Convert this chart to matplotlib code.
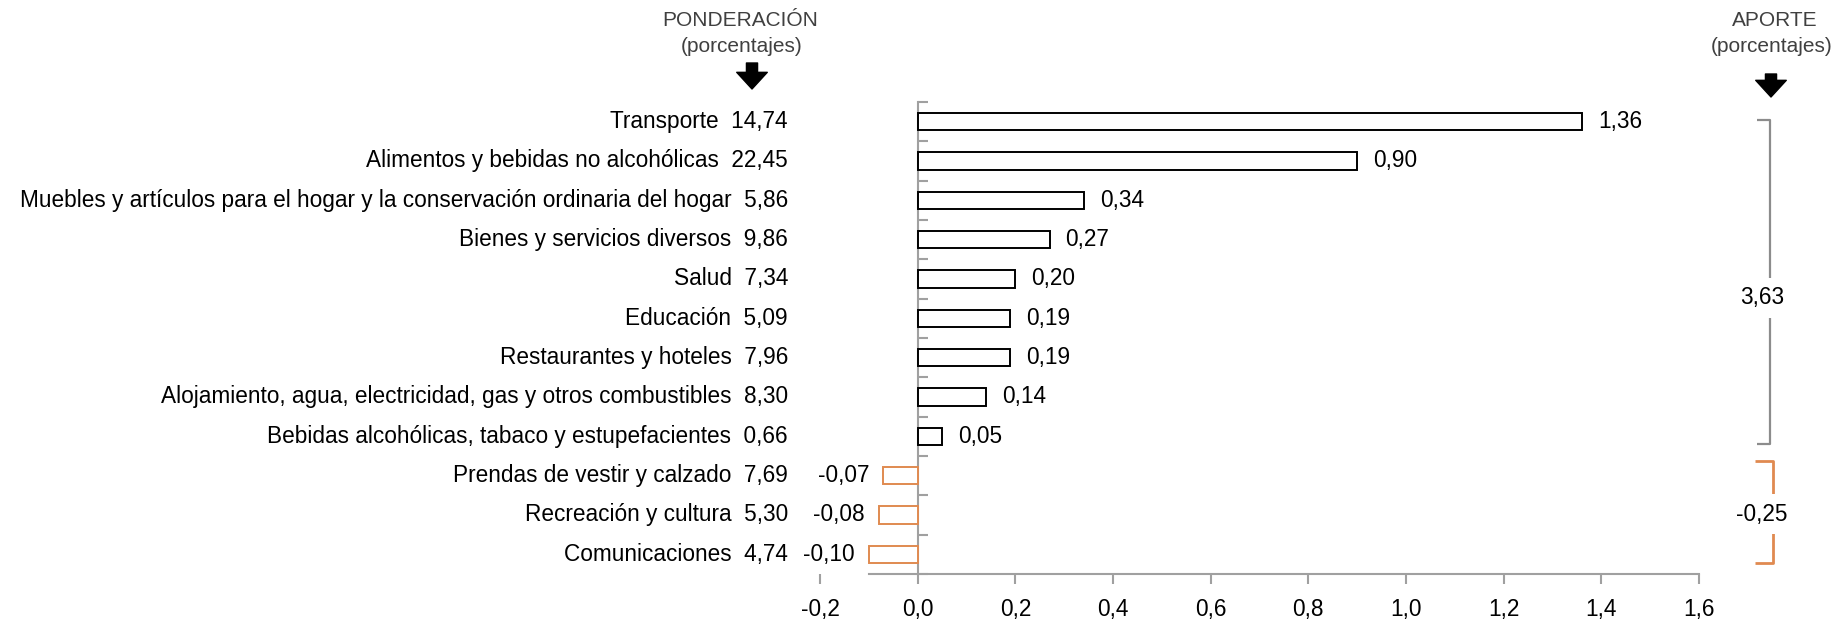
import numpy as np
import matplotlib
matplotlib.use("Agg")
import matplotlib.pyplot as plt
from matplotlib import font_manager
from matplotlib.path import Path
from matplotlib.patches import PathPatch

# data
categorias = [
    "Transporte",
    "Alimentos y bebidas no alcohólicas",
    "Muebles y artículos para el hogar y la conservación ordinaria del hogar",
    "Bienes y servicios diversos",
    "Salud",
    "Educación",
    "Restaurantes y hoteles",
    "Alojamiento, agua, electricidad, gas y otros combustibles",
    "Bebidas alcohólicas, tabaco y estupefacientes",
    "Prendas de vestir y calzado",
    "Recreación y cultura",
    "Comunicaciones",
]
ponderacion = [14.74, 22.45, 5.86, 9.86, 7.34, 5.09, 7.96, 8.30, 0.66, 7.69, 5.30, 4.74]
aporte = [1.36, 0.90, 0.34, 0.27, 0.20, 0.19, 0.19, 0.14, 0.05, -0.07, -0.08, -0.10]
total_pos = 3.63
total_neg = -0.25
xticks = [-0.2, 0.0, 0.2, 0.4, 0.6, 0.8, 1.0, 1.2, 1.4, 1.6]

names = {f.name for f in font_manager.fontManager.ttflist}
fam = "Liberation Sans Narrow" if "Liberation Sans Narrow" in names else "Liberation Sans"
plt.rcParams["font.family"] = [fam, "DejaVu Sans"]

ORANGE = "#E08A50"
GRAY = "#8c8c8c"
FS = 16.3

def fmt(v, d=2):
    return f"{v:.{d}f}".replace(".", ",")

W, H = 1841, 622
fig = plt.figure(figsize=(W / 100, H / 100), dpi=100)
ax = fig.add_axes([820 / W, (H - 574) / H, (1699 - 820) / W, (574 - 102) / H])

y = np.arange(len(categorias))
edge = ["black" if v >= 0 else ORANGE for v in aporte]
ax.barh(y, aporte, height=0.44, color="white", edgecolor=edge, linewidth=1.4, zorder=3)

ax.set_xlim(-0.2, 1.6)
ax.set_ylim(len(categorias) - 0.5, -0.5)

# axes styling
for s in ["top", "right"]:
    ax.spines[s].set_visible(False)
ax.spines["left"].set_position(("data", 0))
ax.spines["bottom"].set_bounds(-0.1, 1.6)
for s in ["left", "bottom"]:
    ax.spines[s].set_color("#a0a0a0")
    ax.spines[s].set_linewidth(1.5)
ax.set_xticks(xticks)
ax.set_xticklabels([fmt(t, 1) for t in xticks], fontsize=FS)
ax.tick_params(axis="x", direction="out", length=7, width=1.5, color="#a0a0a0", pad=10)
ax.set_yticks(np.arange(-0.5, len(categorias), 1))
ax.set_yticklabels([])
ax.tick_params(axis="y", direction="in", length=7, width=1.5, color="#a0a0a0")

# category labels with weights
ytr = ax.get_yaxis_transform()
xlab = (788 - 820) / (1699 - 820)
for i, (c, p) in enumerate(zip(categorias, ponderacion)):
    ax.text(xlab, i, f"{c}  {fmt(p)}", transform=ytr, ha="right", va="center",
            fontsize=FS, color="black")

# value labels
for i, v in enumerate(aporte):
    if v >= 0:
        ax.annotate(fmt(v), (v, i), xytext=(16, 0), textcoords="offset pixels",
                    ha="left", va="center", fontsize=FS)
    else:
        ax.annotate(fmt(v), (v, i), xytext=(-14, 0), textcoords="offset pixels",
                    ha="right", va="center", fontsize=FS)

# brackets
def bracket(y0, y1, xv, xh, color, lw, label, ylab):
    verts = [(xh, y0), (xv, y0), (xv, y1), (xh, y1)]
    codes = [Path.MOVETO, Path.LINETO, Path.LINETO, Path.LINETO]
    ax.add_patch(PathPatch(Path(verts, codes), transform=ytr, fill=False,
                           edgecolor=color, linewidth=lw, joinstyle="round",
                           clip_on=False))
    ax.text((xv + xh) / 2 - 0.002, ylab, label, transform=ytr, ha="center", va="center",
            fontsize=FS, bbox=dict(facecolor="white", edgecolor="none", pad=6),
            clip_on=False)

xa = lambda px: (px - 820) / (1699 - 820)
bracket(-0.03, 8.2, xa(1770), xa(1757), GRAY, 1.6, fmt(total_pos), 4.48)
bracket(8.63, 11.22, xa(1773), xa(1755), ORANGE, 2.0, fmt(total_neg), 9.98)

# headers
hdr = "#404040"
fig.text(740 / W, 1 - 20 / H, "PONDERACIÓN", ha="center", va="center", fontsize=15, color=hdr)
fig.text(742 / W, 1 - 47 / H, "(porcentajes)", ha="center", va="center", fontsize=15, color=hdr)
fig.text(1775 / W, 1 - 20 / H, "APORTE", ha="center", va="center", fontsize=15, color=hdr)
fig.text(1772 / W, 1 - 47 / H, "(porcentajes)", ha="center", va="center", fontsize=15, color=hdr)
arrow = dict(arrowstyle="simple,head_length=0.6,head_width=1.1,tail_width=0.4",
             color="black", mutation_scale=20, shrinkA=0, shrinkB=0)
ax.annotate("", xy=(752, H - 89), xytext=(752, H - 63),
            xycoords="figure pixels", textcoords="figure pixels", arrowprops=arrow)
ax.annotate("", xy=(1771, H - 97), xytext=(1771, H - 74),
            xycoords="figure pixels", textcoords="figure pixels", arrowprops=arrow)

fig.savefig("out.png", dpi=100, facecolor="white")
